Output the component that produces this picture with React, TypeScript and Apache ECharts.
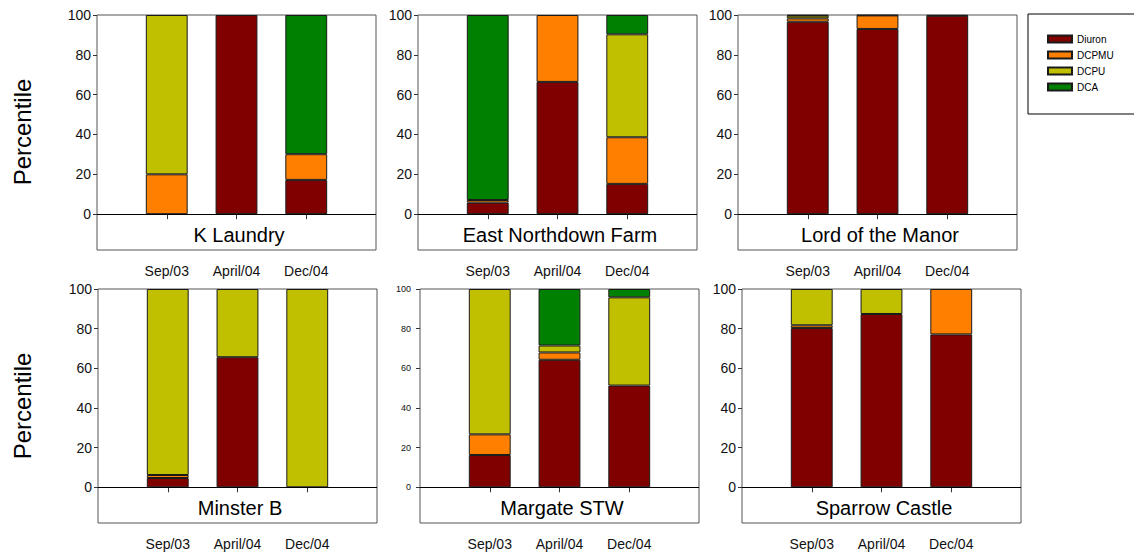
import React, { useEffect, useRef } from "react";
import * as echarts from "echarts";

const dates = ["Sep/03", "April/04", "Dec/04"];
const substances = ["Diuron", "DCPMU", "DCPU", "DCA"];
const substanceColors = ["#800000", "#FF8000", "#C0C000", "#008000"];
const siteNames = ["K Laundry", "East Northdown Farm", "Lord of the Manor", "Minster B", "Margate STW", "Sparrow Castle"];
const yTicks = [0, 20, 40, 60, 80, 100];

// rows: Diuron, DCPMU, DCPU, DCA ; columns: Sep/03, April/04, Dec/04
const kLaundry = [[0, 100, 17.2], [20, 0, 12.9], [80, 0, 0], [0, 0, 69.9]];
const eastNorthdownFarm = [[5.8, 66.4, 15.2], [1.3, 33.6, 23.4], [0, 0, 51.7], [92.9, 0, 9.7]];
const lordOfTheManor = [[96.6, 93.0, 99.6], [1.7, 6.8, 0.4], [1.4, 0.2, 0], [0.3, 0, 0]];
const minsterB = [[4.7, 65.6, 0], [1.5, 0, 0], [93.8, 34.4, 100], [0, 0, 0]];
const margateSTW = [[16.3, 64.3, 51.3], [10.4, 3.7, 0], [73.3, 3.5, 44.5], [0, 28.5, 4.2]];
const sparrowCastle = [[80.3, 87.4, 77.1], [1.4, 0, 22.9], [18.3, 12.6, 0], [0, 0, 0]];

const siteData = [kLaundry, eastNorthdownFarm, lordOfTheManor, minsterB, margateSTW, sparrowCastle];

const FONT = "'Liberation Sans', Arial, Helvetica, sans-serif";

const layout = [
  { left: 97, top: 15, width: 279, height: 235 },
  { left: 418, top: 15, width: 279, height: 235 },
  { left: 738, top: 15, width: 279, height: 235 },
  { left: 98, top: 289, width: 279, height: 234 },
  { left: 420, top: 289, width: 279, height: 234 },
  { left: 742, top: 289, width: 279, height: 234 },
];
const Y_MIN = -18;

export default function App() {
  const ref = useRef<HTMLDivElement>(null);
  useEffect(() => {
    if (!ref.current) return;
    const chart = echarts.init(ref.current, undefined, { renderer: "svg" });
    const grids: any[] = [];
    const xAxes: any[] = [];
    const yAxes: any[] = [];
    const series: any[] = [];
    const graphics: any[] = [];

    layout.forEach((g, p) => {
      grids.push({
        left: g.left,
        top: g.top,
        width: g.width,
        height: g.height,
        show: true,
        borderColor: "#555",
        borderWidth: 1,
        backgroundColor: "transparent",
        containLabel: false,
      });
      xAxes.push({
        type: "category",
        gridIndex: p,
        data: ["", ...dates, ""],
        boundaryGap: false,
        axisLine: { show: false },
        axisTick: {
          show: true,
          length: 5,
          interval: (i: number) => i >= 1 && i <= dates.length,
          lineStyle: { color: "#333", width: 1 },
        },
        axisLabel: { interval: 0, fontSize: 14, fontFamily: FONT, color: "#111", margin: 14 },
        splitLine: { show: false },
      });
      const small = p === 4;
      yAxes.push({
        type: "value",
        gridIndex: p,
        min: Y_MIN,
        max: 100,
        axisLine: { show: false },
        axisTick: { show: true, length: 4, customValues: yTicks, lineStyle: { color: "#333" } },
        axisLabel: {
          customValues: yTicks,
          fontSize: small ? 9 : 14,
          fontFamily: FONT,
          color: "#111",
          margin: small ? 9 : 6,
        },
        splitLine: { show: false },
      });
      const rows = siteData[p];
      rows.forEach((vals, s) => {
        const sr: any = {
          type: "bar",
          name: substances[s],
          stack: "site" + p,
          xAxisIndex: p,
          yAxisIndex: p,
          barWidth: "60%",
          data: ["-", ...vals.map((v) => (v > 0 ? v : "-")), "-"],
          itemStyle: { color: substanceColors[s], borderColor: "#1a1a1a", borderWidth: 1 },
          emphasis: { disabled: true },
        };
        if (s === 0) {
          sr.markLine = {
            silent: true,
            symbol: "none",
            label: { show: false },
            lineStyle: { color: "#000", width: 1, type: "solid" },
            data: [{ yAxis: 0 }],
          };
        }
        series.push(sr);
      });
      const cx = g.left + g.width / 2 + 2.5;
      const zeroY = g.top + (g.height * 100) / (100 - Y_MIN);
      const bottomY = g.top + g.height;
      graphics.push({
        type: "text",
        x: cx,
        y: (zeroY + bottomY) / 2 + 3,
        style: {
          text: siteNames[p],
          fontSize: 20,
          fontFamily: FONT,
          fill: "#000",
          textAlign: "center",
          textVerticalAlign: "middle",
        },
      });
    });

    graphics.push({
      type: "text",
      x: 22,
      y: 132,
      rotation: Math.PI / 2,
      style: { text: "Percentile", fontSize: 24, fontFamily: FONT, fill: "#000", textAlign: "center", textVerticalAlign: "middle" },
    });
    graphics.push({
      type: "text",
      x: 22,
      y: 406,
      rotation: Math.PI / 2,
      style: { text: "Percentile", fontSize: 24, fontFamily: FONT, fill: "#000", textAlign: "center", textVerticalAlign: "middle" },
    });
    graphics.push({
      type: "rect",
      shape: { x: 1028, y: 14, width: 130, height: 100 },
      style: { fill: "none", stroke: "#000", lineWidth: 1 },
    });

    chart.setOption({
      animation: false,
      backgroundColor: "#fff",
      grid: grids,
      xAxis: xAxes,
      yAxis: yAxes,
      series,
      legend: {
        data: substances,
        orient: "vertical",
        left: 1047,
        top: 34,
        padding: 0,
        itemWidth: 24,
        itemHeight: 7,
        itemGap: 6,
        icon: "rect",
        selectedMode: false,
        textStyle: { fontSize: 10, fontFamily: FONT, color: "#000", lineHeight: 10 },
      },
      graphic: graphics,
    });
    return () => chart.dispose();
  }, []);
  return <div ref={ref} style={{ position: "absolute", left: 0, top: 0, width: 1134, height: 556 }} />;
}
